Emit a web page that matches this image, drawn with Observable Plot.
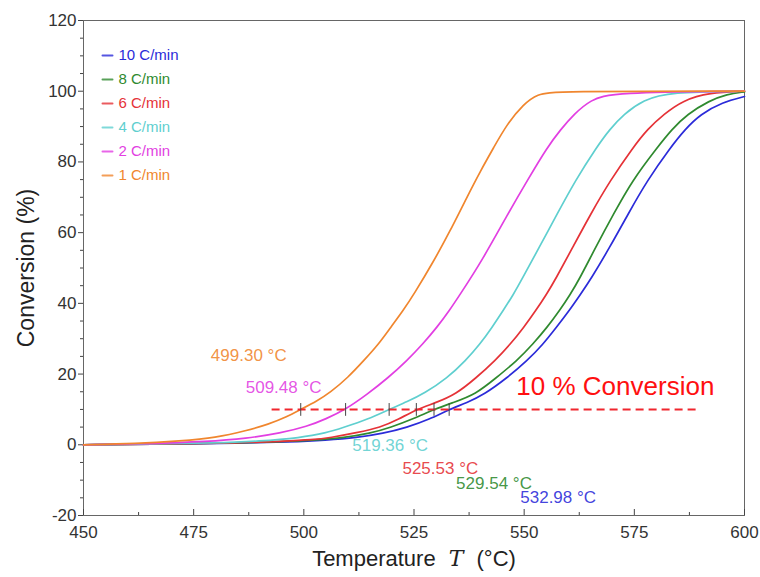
<!DOCTYPE html>
<html><head><meta charset="utf-8">
<script src="https://cdn.jsdelivr.net/npm/d3@7"></script>
<script src="https://cdn.jsdelivr.net/npm/@observablehq/plot@0.6"></script>
<style>
body{margin:0;background:#fff;}
#chart{width:760px;height:577px;overflow:hidden;}
</style></head><body><div id="chart"></div>
<script>
// ---- data ----
const seriesNames = ["10 C/min", "8 C/min", "6 C/min", "4 C/min", "2 C/min", "1 C/min"];
const seriesColors = ["#2b2bd9", "#2f8a2f", "#e53237", "#5fcfcf", "#e23fe2", "#f0862e"];

const T10 = [450, 470, 485, 497, 505, 512, 518, 523.4, 528.5, 532.98, 537, 541, 546, 550.7, 554.2, 557.3, 560.2, 562.8, 565.1, 569.4, 573.6, 577.9, 583.2, 586.5, 590, 595, 600];
const C10 = [0, 0.2, 0.4, 0.8, 1.3, 2.0, 3.2, 4.9, 7.2, 10, 11.9, 14.3, 18.8, 23.8, 28.3, 33.2, 37.9, 42.6, 46.8, 55.8, 65.3, 74.7, 84.1, 89.2, 93.5, 96.9, 98.5];

const T8 = [450, 470, 485, 495, 503, 509, 515, 519.7, 525, 529.54, 534, 539, 543.5, 548.4, 552, 555.2, 558, 560.5, 562.5, 566.2, 570.3, 574.5, 580.2, 583.5, 587, 592, 596, 600];
const C8 = [0, 0.2, 0.5, 0.9, 1.4, 2.0, 3.2, 4.9, 7.4, 10, 12.0, 14.3, 18.8, 23.8, 28.5, 33.2, 37.9, 42.6, 46.8, 55.8, 65.3, 74.7, 84.1, 89.2, 93.5, 97.3, 99.2, 99.8];

const T6 = [450, 470, 485, 495, 502, 506, 512, 517.4, 521.5, 525.53, 530, 534.5, 539, 543.4, 546.9, 549.9, 552.6, 555.1, 557.1, 561.0, 565.1, 569.5, 574.7, 578, 581.7, 586, 592, 600];
const C6 = [0, 0.2, 0.5, 1.0, 1.4, 2.0, 3.4, 4.9, 7.2, 10, 11.9, 14.3, 18.8, 23.8, 28.5, 33.2, 37.9, 42.6, 46.8, 55.8, 65.3, 74.7, 84.1, 89.3, 93.5, 97.4, 99.6, 100];

const T4 = [450, 465, 480, 490, 499.2, 505, 509, 514.5, 519.36, 523.5, 527.3, 532.5, 536.7, 540, 542.7, 545.2, 547.6, 549.3, 553.4, 557.5, 561.6, 566.4, 569.4, 572.6, 577, 583, 600];
const C4 = [0, 0.2, 0.5, 1.0, 2.0, 3.3, 4.9, 7.2, 10, 12.2, 14.5, 18.8, 23.8, 28.5, 33.2, 37.9, 42.6, 46.4, 55.8, 65.3, 74.7, 84.1, 89.2, 93.5, 97.5, 99.8, 100];

const T2 = [450, 465, 478, 487, 494.7, 500.8, 505, 509.48, 514.4, 519, 523.4, 527, 530.2, 533, 535.5, 540.4, 546.3, 550.7, 555.2, 558.3, 561.3, 565, 570, 600];
const C2 = [0, 0.3, 0.9, 1.8, 3.3, 5.2, 7.3, 10, 14.3, 18.8, 23.8, 28.5, 33.2, 37.9, 42.6, 52, 65.3, 74.7, 84.1, 89.2, 93.5, 97.5, 99.7, 100];

const T1 = [450, 462, 472, 480, 487, 492, 496, 499.3, 503, 506, 510, 513.6, 517, 519.7, 522.5, 525, 529.5, 533, 537, 540.1, 543.1, 546.1, 549.9, 553, 557, 600];
const C1 = [0, 0.3, 1.1, 2.0, 4.0, 5.8, 7.8, 10, 12.4, 14.8, 19, 23.8, 28.5, 33.2, 37.9, 42.6, 52, 60, 70, 77.5, 84.1, 90.7, 96.4, 99.2, 100, 100];

const seriesT = [T10, T8, T6, T4, T2, T1];
const seriesC = [C10, C8, C6, C4, C2, C1];

const onsetTemps = [532.98, 529.54, 525.53, 519.36, 509.48, 499.30];
const onsetLabels = ["532.98 °C", "529.54 °C", "525.53 °C", "519.36 °C", "509.48 °C", "499.30 °C"];
const conversionLevel = 10;
const conversionText = "10 % Conversion";
const dashStart = 492.8, dashEnd = 589.3;

const xTicks = [450, 475, 500, 525, 550, 575, 600];
const xMinor = [462.5, 487.5, 512.5, 537.5, 562.5, 587.5];
const yTicks = [-20, 0, 20, 40, 60, 80, 100, 120];
const yMinor = d3.range(-20, 121, 5).filter(v => v % 20 !== 0);
const xLabel = "Temperature T (°C)";
const yLabel = "Conversion (%)";

// ---- build rows ----
const rows = [];
seriesNames.forEach((s, i) => seriesT[i].forEach((t, j) => rows.push({series: s, T: t, C: seriesC[i][j]})));
const onsets = onsetTemps.map((t, i) => ({T: t, label: onsetLabels[i], series: seriesNames[i], C: conversionLevel}));

// label offsets (pixels) relative to the crossing point
const labelOffsets = [[109, 88], [60, 74], [24, 59], [1, 36], [-62, -22], [-52, -54]];

const plotH = 577 - 20 - 62;
const font = "Arial, 'Liberation Sans', sans-serif";

const tickShape = {draw(ctx, l) { ctx.moveTo(0, -l / 2); ctx.lineTo(0, l / 2); }};
const dashShape = {draw(ctx, l) { ctx.moveTo(-l / 2, 0); ctx.lineTo(l / 2, 0); }};

const marks = [
  Plot.frame({stroke: "#666", strokeWidth: 1}),
  Plot.axisY(yTicks, {tickSize: 5, tickPadding: 2, fontSize: 17, label: null, stroke: "#444", fill: "#333", tickFormat: d => String(d)}),
  Plot.axisY(yMinor, {tickSize: 3, tickFormat: () => "", label: null, stroke: "#444"}),
  Plot.axisX(xTicks, {tickSize: 0, tickPadding: 10, fontSize: 17, label: null, fill: "#333", tickFormat: d => String(d)}),
  Plot.ruleX(xTicks, {x: d => d, insetTop: plotH - 6, stroke: "#444"}),
  Plot.ruleX(xMinor, {x: d => d, insetTop: plotH - 3, stroke: "#444"}),
  Plot.line(rows, {x: "T", y: "C", z: "series", stroke: "series", strokeWidth: 1.7, curve: "basis"}),
  Plot.ruleY([conversionLevel], {y: d => d, x1: dashStart, x2: dashEnd, stroke: "#f0262e", strokeWidth: 2, strokeDasharray: "8,5"}),
  Plot.vector(onsets, {x: "T", y: "C", length: 12, rotate: 0, anchor: "start", shape: tickShape, stroke: "#444", strokeWidth: 1}),
  Plot.text([conversionText], {x: dashEnd, y: conversionLevel, text: d => d, textAnchor: "end", dx: 17, dy: -23, fontSize: 26, fill: "#ff1010"}),
  ...onsets.map((d, i) => Plot.text([d], {x: "T", y: "C", text: "label", dx: labelOffsets[i][0], dy: labelOffsets[i][1], fontSize: 17, fill: seriesColors[i], fillOpacity: 0.9})),
  ...seriesNames.map((s, i) => Plot.vector([s], {frameAnchor: "top-left", dx: 24, dy: 35 + 24 * i, length: 10, rotate: 0, anchor: "start", shape: dashShape, stroke: seriesColors[i], strokeWidth: 2, strokeOpacity: 0.8})),
  ...seriesNames.map((s, i) => Plot.text([s], {frameAnchor: "top-left", dx: 35, dy: 35 + 24 * i, text: d => d, textAnchor: "start", lineAnchor: "middle", fontSize: 15, fill: seriesColors[i]})),
  Plot.text([xLabel], {frameAnchor: "bottom", dy: 50, text: d => d, fontSize: 22, fill: "#222"}),
  Plot.text([yLabel], {frameAnchor: "left", dx: -57, rotate: -90, text: d => d, textAnchor: "middle", fontSize: 23, fill: "#222"})
];

const svg = Plot.plot({
  width: 760, height: 577,
  marginLeft: 83, marginRight: 16, marginTop: 20, marginBottom: 62,
  x: {domain: [450, 600]},
  y: {domain: [-20, 120]},
  color: {domain: seriesNames, range: seriesColors},
  style: {fontFamily: font, background: "white", color: "#333"},
  marks
});

// italic T in the x label
const xl = Array.from(svg.querySelectorAll("text")).find(el => el.textContent === xLabel);
if (xl) {
  const parts = xLabel.split(" T ");
  const t = d3.select(xl);
  t.text(null);
  t.append("tspan").text(parts[0] + " ");
  t.append("tspan").attr("font-family", "'DejaVu Serif', 'Liberation Serif', serif").attr("font-style", "italic").text(" T ");
  t.append("tspan").text(" " + parts[1]);
}
document.getElementById("chart").appendChild(svg);
</script>
</body></html>
